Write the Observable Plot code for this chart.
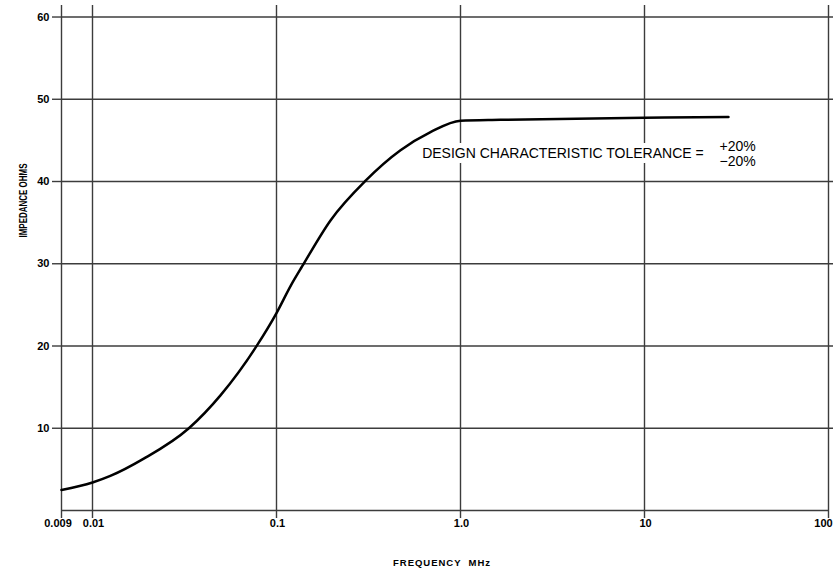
<!DOCTYPE html>
<html>
<head>
<meta charset="utf-8">
<script src="https://cdn.jsdelivr.net/npm/d3@7"></script>
<script src="https://cdn.jsdelivr.net/npm/@observablehq/plot@0.6"></script>
<style>
  body { margin: 0; background: #fff; }
  #chart svg { display: block; }
</style>
</head>
<body>
<div id="chart"></div>
<script>
// ---- data ----
const freqMHz       = [0.009, 0.01, 0.0125, 0.019, 0.0334, 0.0496, 0.0785, 0.1,  0.12, 0.138, 0.197, 0.305, 0.472, 0.687, 1.0,  1.65, 10,    28.6];
const impedanceOhms = [2.5,   3.4,  4.2,    6.3,   10.0,   14.0,   20.1,   24.0, 27.4, 29.7,  35.3,  40.1,  43.8,  46.0,  47.4, 47.5, 47.75, 47.85];

const xTicks      = [0.009, 0.01, 0.1, 1, 10, 100];
const xTickLabels = ["0.009", "0.01", "0.1", "1.0", "10", "100"];
const yTicks      = [10, 20, 30, 40, 50, 60];

const xLabel   = "FREQUENCY  MHz";
const yLabel   = "IMPEDANCE OHMS";
const noteText = "DESIGN CHARACTERISTIC TOLERANCE =";
const noteTol  = "+20%\n\u221220%";

// annotation anchors, in data units (frequency, ohms)
const noteFreq = [0.619];
const tolFreq  = [25.6];
const noteOhms = [43.35];

// ---- chart ----
const data = freqMHz.map((f, i) => ({f, z: impedanceOhms[i]}));
const labelOf = new Map(xTicks.map((t, i) => [t, xTickLabels[i]]));
const grid = "#3c3c3c";
const font = "'Liberation Sans', Arial, Helvetica, sans-serif";
const tickLen = 0.97; // in ohms, ~8px below the axis

const firstTick = xTicks.slice(0, 1);
const midTicks  = xTicks.slice(1, -1);
const lastTick  = xTicks.slice(-1);
const tickText = {y: 0, text: d => labelOf.get(d), dy: 12.5, fontWeight: "bold", fontSize: 11, fill: "#000"};

const chart = Plot.plot({
  width: 833,
  height: 576,
  marginLeft: 61,
  marginRight: 5,
  marginTop: 5,
  marginBottom: 66,
  style: {fontFamily: font, color: "#000", background: "#fff", overflow: "visible"},
  x: {type: "log", domain: [0.009, 0.01, 100], range: [61, 92, 828], axis: null},
  y: {domain: [0, 61.4], axis: null},
  marks: [
    // vertical grid lines (full height, plus tick below the axis)
    Plot.ruleX(xTicks, {y1: -tickLen, y2: 61.4, stroke: grid, strokeWidth: 1.4}),
    // horizontal grid lines
    Plot.ruleY(yTicks, {x1: 0.009, x2: 107, stroke: grid, strokeWidth: 1.4}),
    // bottom axis line
    Plot.ruleY([0], {x1: 0.009, x2: 100, stroke: grid, strokeWidth: 1.4}),
    // x tick labels
    Plot.text(firstTick, {...tickText, x: d => d, dx: -3.5}),
    Plot.text(midTicks,  {...tickText, x: d => d, dx: 1}),
    Plot.text(lastTick,  {...tickText, x: d => d, dx: -5}),
    Plot.axisY({
      ticks: yTicks, tickSize: 9, tickPadding: 3,
      fontWeight: "bold", fontSize: 11, stroke: grid, strokeWidth: 1.4, label: null
    }),
    // axis titles
    Plot.text([yLabel], {
      frameAnchor: "top-left", rotate: -90, dx: -42, dy: 195,
      fontWeight: "bold", fontSize: 10, fill: "#000", textAnchor: "middle"
    }),
    Plot.text([xLabel], {
      frameAnchor: "bottom", dx: -3.5, dy: 55.5,
      fontWeight: "bold", fontSize: 9.5, fill: "#000", textAnchor: "middle"
    }),
    // annotation with white knock-out
    Plot.text([noteText], {
      x: noteFreq, y: noteOhms, textAnchor: "start", fontSize: 14, fill: "#000",
      stroke: "white", strokeWidth: 10, paintOrder: "stroke"
    }),
    Plot.text([noteTol], {
      x: tolFreq, y: noteOhms, textAnchor: "start", fontSize: 14, lineHeight: 1.04, fill: "#000",
      stroke: "white", strokeWidth: 10, paintOrder: "stroke"
    }),
    // impedance curve
    Plot.line(data, {x: "f", y: "z", curve: "monotone-x", stroke: "#000", strokeWidth: 2.5})
  ]
});

// fit the axis titles to the lengths seen in the reference
d3.select(chart).selectAll("text")
  .filter(function () { return this.textContent === yLabel; })
  .attr("textLength", 74).attr("lengthAdjust", "spacingAndGlyphs");
d3.select(chart).selectAll("text")
  .filter(function () { return this.textContent === xLabel; })
  .attr("textLength", 97).attr("lengthAdjust", "spacing");

document.getElementById("chart").appendChild(chart);
</script>
</body>
</html>
